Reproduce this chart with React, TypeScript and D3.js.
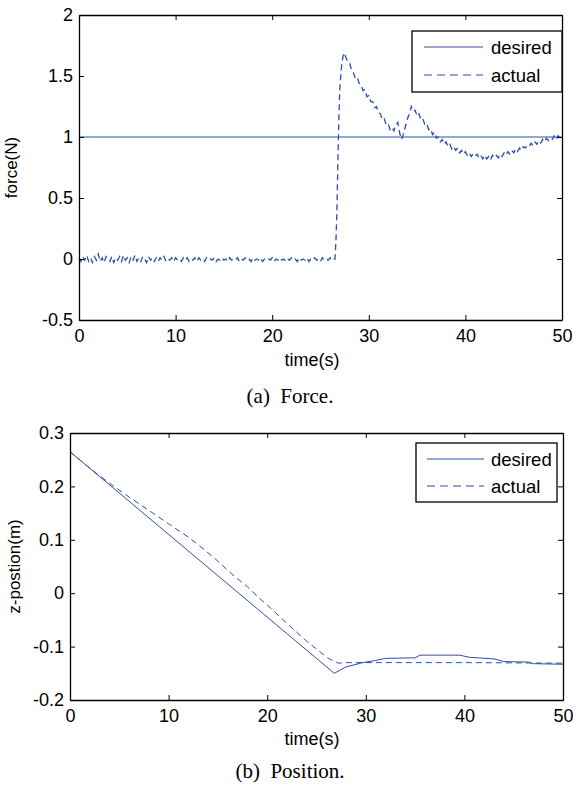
import React, { useEffect, useRef } from 'react';
import * as d3 from 'd3';

// force plot: actual force sampled every 0.2 s before contact
const forceBaseValues = [
  0.01, -0.02, 0.02, -0.01, 0.03, -0.02, 0.01, -0.03, 0.02, -0.01,
  0.04, -0.02, 0.01, -0.03, 0.02, 0.0, -0.02, 0.02, -0.03, 0.01,
  -0.01, 0.02, -0.02, 0.03, -0.01, 0.01, -0.03, 0.02, -0.01, 0.03,
  -0.02, 0.01, -0.02, 0.02, 0.0, -0.03, 0.02, -0.01, 0.01, -0.02,
  0.01, -0.02, 0.01, -0.01, 0.02, -0.02, 0.0, -0.01, 0.01, -0.02,
  0.01, -0.01, 0.0, -0.02, 0.01, -0.01, 0.01, -0.02, 0.0, -0.01,
  0.01, -0.02, 0.01, -0.01, 0.0, -0.02, 0.01, -0.01, 0.0, -0.01,
  0.01, -0.02, 0.0, -0.01, 0.01, -0.01, 0.0, -0.02, 0.01, -0.01,
  0.0, -0.01, 0.01, -0.02, 0.0, -0.01, 0.01, -0.01, 0.0, -0.02,
  0.01, -0.01, 0.0, -0.01, 0.01, -0.02, 0.0, -0.01, 0.0, -0.01,
  0.01, -0.02, 0.0, -0.01, 0.01, -0.01, 0.0, -0.02, 0.0, -0.01,
  0.01, -0.01, 0.0, -0.02, 0.01, -0.01, 0.0, -0.01, 0.01, -0.02,
  0.0, -0.01, 0.01, -0.01, 0.0, -0.02, 0.01, -0.01, 0.0, -0.01,
  0.01, -0.01, 0.0,
];
const forceBaseStep = 0.2;

// contact jump
const forceJumpTimes = [26.5, 26.6, 26.7, 26.8, 26.9, 27.0, 27.2, 27.4];
const forceJumpValues = [0.0, 0.15, 0.4, 0.8, 1.15, 1.4, 1.6, 1.69];

// after contact, every 0.2 s from 27.6 s
const forceTailStart = 27.6;
const forceTailValues = [
  1.66, 1.62, 1.61, 1.55, 1.53, 1.48, 1.49, 1.44, 1.43, 1.38,
  1.39, 1.33, 1.34, 1.29, 1.29, 1.24, 1.25, 1.2, 1.19, 1.14,
  1.15, 1.1, 1.11, 1.06, 1.08, 1.05, 1.1, 1.12, 1.03, 0.98,
  1.03, 1.09, 1.15, 1.19, 1.25, 1.21, 1.22, 1.17, 1.19, 1.14,
  1.15, 1.1, 1.11, 1.06, 1.07, 1.02, 1.04, 0.99, 1.0, 0.96,
  0.98, 0.94, 0.96, 0.92, 0.94, 0.9, 0.92, 0.89, 0.91, 0.87,
  0.89, 0.86, 0.88, 0.85, 0.87, 0.84, 0.86, 0.84, 0.86, 0.83,
  0.85, 0.82, 0.85, 0.82, 0.84, 0.81, 0.85, 0.83, 0.85, 0.83,
  0.86, 0.84, 0.87, 0.85, 0.88, 0.86, 0.89, 0.87, 0.9, 0.88,
  0.91, 0.89, 0.92, 0.91, 0.93, 0.92, 0.95, 0.93, 0.96, 0.94,
  0.97, 0.95, 0.98, 0.96, 0.99, 0.97, 0.99, 0.98, 1.01, 0.98,
  1.01, 0.99, 1.01,
];

const forceDesiredTimes = [0, 50];
const forceDesiredValues = [1, 1];

// position plot
const posDesiredTimes = [0, 26.8, 28, 29.7, 31, 32, 35, 35.5, 39.5, 40.5, 43, 44, 46.5, 47, 50];
const posDesiredValues = [0.265, -0.15, -0.138, -0.13, -0.126, -0.122, -0.121, -0.116, -0.116, -0.12, -0.123, -0.128, -0.129, -0.132, -0.133];

const posActualTimes = [0, 2, 4, 6, 8, 10, 12, 13.2, 15, 16.4, 18, 19, 20, 21.8, 24, 26.2, 27.2, 28, 40, 50];
const posActualValues = [0.265, 0.234, 0.206, 0.18, 0.155, 0.13, 0.105, 0.088, 0.06, 0.036, 0.012, -0.006, -0.022, -0.053, -0.09, -0.122, -0.131, -0.13, -0.13, -0.131];

const timeTicks = [0, 10, 20, 30, 40, 50];
const forceTicks = [-0.5, 0, 0.5, 1, 1.5, 2];
const posTicks = [-0.2, -0.1, 0, 0.1, 0.2, 0.3];

const blue = '#2f4fa6';
const sans = 'Liberation Sans, Arial, sans-serif';
const serif = 'Liberation Serif, Times New Roman, serif';

const App = () => {
  const ref = useRef(null);

  useEffect(() => {
    drawChart();
  }, []); // eslint-disable-line react-hooks/exhaustive-deps

  const drawPanel = (svg, opts) => {
    const { left, right, top, bottom, yDomain, yTicks, yLabel, yLabelX, series, legend, xLabelY, caption, captionY } = opts;
    const x = d3.scaleLinear().domain([0, 50]).range([left, right]);
    const y = d3.scaleLinear().domain(yDomain).range([bottom, top]);
    const g = svg.append('g');

    const line = d3
      .line()
      .x((d) => x(d[0]))
      .y((d) => y(d[1]));

    series.forEach((s) => {
      g.append('path')
        .datum(s.points)
        .attr('d', line)
        .attr('fill', 'none')
        .attr('stroke', blue)
        .attr('stroke-width', s.width || 1)
        .attr('stroke-dasharray', s.dashed ? '6,4' : null);
    });

    // box + inward ticks
    const fmt = (d) => String(d);
    g.append('g')
      .attr('transform', `translate(0,${bottom})`)
      .call(d3.axisBottom(x).tickValues(timeTicks).tickSizeInner(-5).tickSizeOuter(0).tickPadding(9).tickFormat(fmt));
    g.append('g')
      .attr('transform', `translate(0,${top})`)
      .call(d3.axisTop(x).tickValues(timeTicks).tickSizeInner(-5).tickSizeOuter(0).tickFormat(() => ''));
    g.append('g')
      .attr('transform', `translate(${left},0)`)
      .call(d3.axisLeft(y).tickValues(yTicks).tickSizeInner(-5).tickSizeOuter(0).tickPadding(6).tickFormat(fmt));
    g.append('g')
      .attr('transform', `translate(${right},0)`)
      .call(d3.axisRight(y).tickValues(yTicks).tickSizeInner(-5).tickSizeOuter(0).tickFormat(() => ''));
    g.selectAll('.domain').attr('stroke', '#000').attr('stroke-width', 1.3);
    g.selectAll('.tick line').attr('stroke', '#000');
    g.selectAll('.tick text').attr('font-family', sans).attr('font-size', 18).attr('fill', '#000');

    // legend
    const lg = g.append('g');
    lg.append('rect')
      .attr('x', legend.x0)
      .attr('y', legend.y0)
      .attr('width', legend.x1 - legend.x0)
      .attr('height', legend.y1 - legend.y0)
      .attr('fill', '#fff')
      .attr('stroke', '#000')
      .attr('stroke-width', 1.3);
    legend.items.forEach((it, i) => {
      const ly = legend.rowY[i];
      lg.append('line')
        .attr('x1', legend.lineX0)
        .attr('x2', legend.lineX1)
        .attr('y1', ly)
        .attr('y2', ly)
        .attr('stroke', blue)
        .attr('stroke-width', 1)
        .attr('stroke-dasharray', it.dashed ? '8,5' : null);
      lg.append('text')
        .attr('x', legend.textX)
        .attr('y', ly + 7)
        .attr('font-family', sans)
        .attr('font-size', 18.5)
        .text(it.label);
    });

    g.append('text')
      .attr('x', 312)
      .attr('y', xLabelY)
      .attr('text-anchor', 'middle')
      .attr('font-family', sans)
      .attr('font-size', 18)
      .text('time(s)');
    g.append('text')
      .attr('transform', `translate(${yLabelX},${(top + bottom) / 2}) rotate(-90)`)
      .attr('text-anchor', 'middle')
      .attr('font-family', sans)
      .attr('font-size', 17)
      .text(yLabel);
    g.append('text')
      .attr('x', 290)
      .attr('y', captionY)
      .attr('text-anchor', 'middle')
      .attr('font-family', serif)
      .attr('font-size', 21)
      .attr('xml:space', 'preserve')
      .style('white-space', 'pre')
      .text(caption);
  };

  const drawChart = () => {
    const svg = d3.select(ref.current);
    svg.selectAll('*').remove();

    const actualForce = [
      ...forceBaseValues.map((v, i) => [i * forceBaseStep, v]),
      ...forceJumpTimes.map((t, i) => [t, forceJumpValues[i]]),
      ...forceTailValues.map((v, i) => [forceTailStart + i * 0.2, v]),
    ];
    const desiredForce = forceDesiredTimes.map((t, i) => [t, forceDesiredValues[i]]);

    drawPanel(svg, {
      left: 79,
      right: 562,
      top: 15,
      bottom: 320,
      yDomain: [-0.5, 2],
      yTicks: forceTicks,
      yLabel: 'force(N)',
      yLabelX: 17,
      series: [
        { points: desiredForce, dashed: false },
        { points: actualForce, dashed: true, width: 1.3 },
      ],
      legend: {
        x0: 412, x1: 562, y0: 31, y1: 92,
        lineX0: 424, lineX1: 483, textX: 491,
        rowY: [47, 75],
        items: [
          { label: 'desired', dashed: false },
          { label: 'actual', dashed: true },
        ],
      },
      xLabelY: 366,
      caption: '(a)  Force.',
      captionY: 403,
    });

    drawPanel(svg, {
      left: 70,
      right: 563,
      top: 433,
      bottom: 700,
      yDomain: [-0.2, 0.3],
      yTicks: posTicks,
      yLabel: 'z-postion(m)',
      yLabelX: 20,
      series: [
        { points: posDesiredTimes.map((t, i) => [t, posDesiredValues[i]]), dashed: false },
        { points: posActualTimes.map((t, i) => [t, posActualValues[i]]), dashed: true },
      ],
      legend: {
        x0: 416, x1: 557, y0: 443, y1: 502,
        lineX0: 427, lineX1: 484, textX: 491,
        rowY: [459, 486],
        items: [
          { label: 'desired', dashed: false },
          { label: 'actual', dashed: true },
        ],
      },
      xLabelY: 745,
      caption: '(b)  Position.',
      captionY: 778,
    });
  };

  return (
    <div>
      <svg
        ref={ref}
        width="573"
        height="787"
        style={{ position: 'absolute', left: 0, top: 0, background: '#fff' }}
      ></svg>
    </div>
  );
};

export default App;
